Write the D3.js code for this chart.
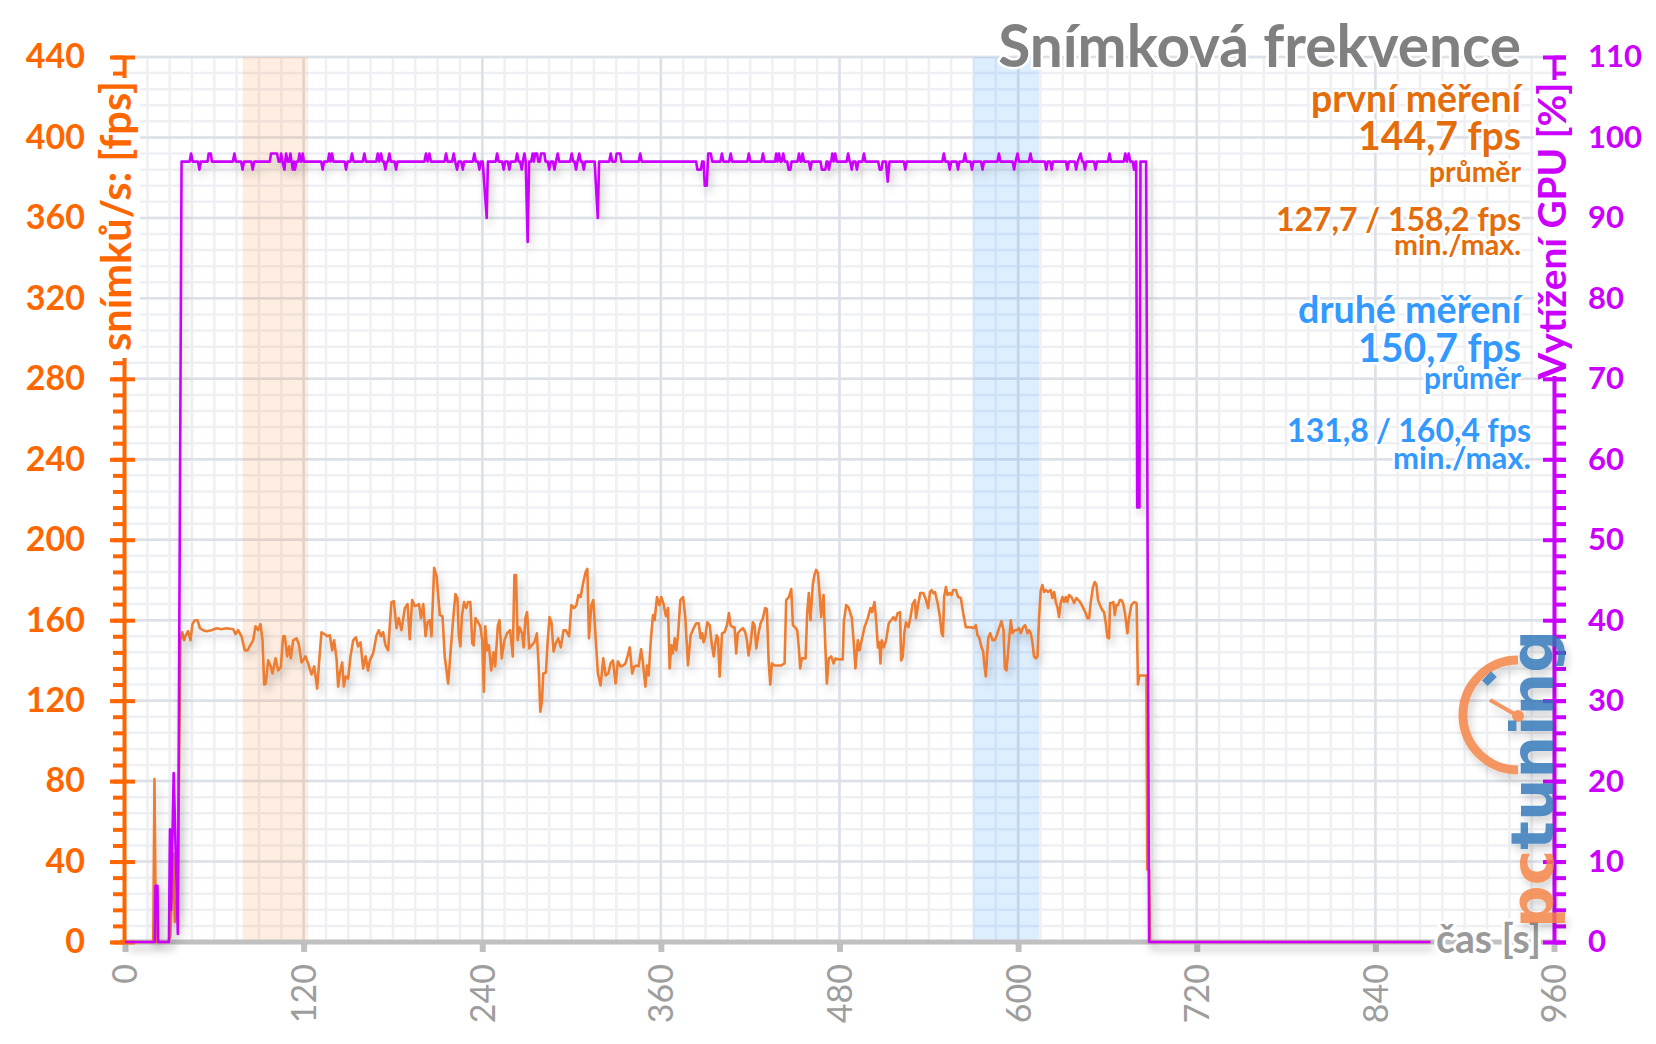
<!DOCTYPE html>
<html><head><meta charset="utf-8">
<script src="https://cdn.jsdelivr.net/npm/d3@7"></script>
<style>
html,body{margin:0;padding:0;background:#fff;}
svg{display:block;font-family:Lato,'Open Sans',sans-serif;}
</style></head><body>
<svg id="chart" width="1656" height="1044"></svg>
<script>
// ---------- data ----------
const timeTicks = [0,120,240,360,480,600,720,840,960];
const fpsTicks = [0,40,80,120,160,200,240,280,320,360,400,440];
const gpuTicks = [0,10,20,30,40,50,60,70,80,90,100,110];
const bandFirst = [79,123];
const bandSecond = [570,614];
const chartTitle = "Snímková frekvence";
const leftTitle = "snímků/s: [fps]";
const rightTitle = "Vytížení GPU [%]";
const timeTitle = "čas [s]";
const firstRun = ["první měření","144,7 fps","průměr","127,7 / 158,2 fps","min./max."];
const secondRun = ["druhé měření","150,7 fps","průměr","131,8 / 160,4 fps","min./max."];

// [time s, fps]
const fpsSamples = [
[0,0],[19,0],[19.8,81],[20.8,0],[29,0],[30.5,3],[32.5,44],[33.5,10],[35.5,25],[37.2,150],
[38.4,154],[39.7,150],[40.5,152],[42.4,154.5],[44,150],[45.3,158],[46.9,160],[48.7,160],[50.3,156],[52.5,155],[54.7,154.5],[58.1,155],[61.5,156],[64.8,155.5],[68.2,156],[72.7,155.5],[74.2,153],[76,155],[78.3,152],[80.5,145],[82.3,145],[84.5,148],[86.1,150],[87.7,157],[89.4,155],[91,158],[92.4,150],[93.5,128],[94.6,128.5],[96.2,140],[97.7,137.5],[99.1,133.5],[101.1,141],[102.9,135],[104.7,136.5],[106.2,152],[107.4,152],[108.9,142],[110.3,147],[111.4,141],[113,150],[115.2,151],[116.8,148],[118.6,139],[119.7,140],[121.2,142],[123,138.5],[125.3,133],[127.1,137],[129.1,126],[130.4,139],[132,154],[134.2,153],[135.8,152],[137.6,152.5],[139.2,145],[140.5,150],[142.1,141],[143.2,127],[144.3,133.5],[145.9,139],[147,127],[148.3,132],[149.9,131],[151.5,142],[153.3,150],[155.1,151.5],[156.6,147],[158.2,149],[160,136],[161.6,142],[163.3,135],[164.5,140],[166.7,143.5],[169,152.5],[170.5,155],[171.9,152],[173.4,154],[175,147.5],[176.8,145],[179,169],[180.6,169.5],[182.4,156],[183.9,161],[185.7,155],[188,166],[189.8,168],[191.3,150.5],[192.9,170],[194.7,167],[196.6,167.5],[197.5,168],[198.8,161],
[200.4,168],[201.9,152],[203.3,159],[204.8,160],[205.9,152],[207.7,186],[209.3,182],[211.5,162.5],[213.3,162],[214.8,142],[217.1,128.5],[218.8,145],[220.4,160],[222,173],[223.3,171],[224.2,153],[225.3,147],[226.4,162.5],[227.8,169],[229.3,166],[230.4,169],[232,169],[233.3,148.5],[234.2,147.5],[235.5,161],[237.1,159],[238.7,157],[240,150],[241.1,124.5],[242,157],[243.3,145],[244.5,147.5],[246,135],[247.6,144],[248.7,137],[250.5,157.5],[251.6,160],[253.1,141],[254.9,150],[256.7,153.5],[258.7,155],[260.5,142],[261.6,182.5],[262.7,182.5],[263.8,150],[265,156.5],[266.7,153.5],[267.8,146.5],[269,161],[270.1,164],[271.6,146],[273.2,147.5],[275,149],[276.7,153.5],[277.9,137],[279,114.5],[280.1,119.5],[281,133.5],[282.8,134],[283.9,149],[285.2,161.5],[286.5,159],[287.9,144.5],[289.4,148.5],[291,151],[292.8,146.5],[294.6,155],[296.1,155],[298.4,152],[299.9,167.5],[301.7,166],[303.3,167.5],[304.6,172.5],[306.1,171.5],[307.9,179],[309.5,184],[310.6,185.5],[311.7,151],[313.3,167.5],[314.6,170],[316.2,151],[317.7,133.5],[319.5,127.5],[321.3,141],[322.9,132.5],[324.7,133.5],[326.2,138.5],[327.8,140],[329.6,128.5],[331.1,139.5],[332.9,137],[334.7,137.5],[336.2,138.5],[337.8,142.5],[339.1,146.5],[340.7,133.5],[342.2,137],[344,137.5],[345.1,137],[346.7,145.5],[347.8,140],[349.6,127],[350.7,137.5],[351.8,132.5],[353.4,151.5],[354.7,162.5],[355.8,160],[357.4,171.5],[359,167.5],[360.3,171.5],
[361.8,168],[363.4,162],[364.8,166],[365.9,136],[367,147.5],[368.1,143.5],[369.3,151],[370.4,145],[371.5,152.5],[373.1,170],[374.9,171.5],[376.4,161.5],[378.2,137.5],[380,152.5],[382,156],[383.8,158.5],[385.4,158.5],[386.7,151],[387.8,153.5],[388.7,149],[389.8,151.5],[391.2,159],[392.8,157.5],[394.3,147.5],[395.5,142],[396.6,148.5],[397.5,152.5],[398.4,151],[399.5,132],[401.1,153.5],[402.8,154],[404.4,157.5],[405.7,163.5],[406.8,157.5],[408.4,156.5],[409.5,156.5],[410.6,143.5],[411.7,153.5],[413.5,155],[415.1,156],[416.7,154],[417.8,150],[418.9,142.5],[420.3,148.5],[421.8,159],[422.9,157.5],[424.1,146],[425.6,153.5],[427,158.5],[428.5,161],[430.1,166],[431.2,165.5],[432.4,139.5],[433.5,128],[434.6,138.5],[436.4,137.5],[438.2,137.5],[440.9,137.5],[443.1,138.5],[444.2,170],[446,171.5],[447.6,175.5],[448.7,157.5],[450.2,156.5],[451.6,155],[452.7,146],[453.6,136],[454.7,141],[457.2,141],[458.3,163.5],[459.4,173.5],[460.5,160],[462.1,178],[463.2,182.5],[464.3,185],[465.5,183.5],[466.6,173.5],[467.7,161.5],[469.3,172.5],[470.4,148.5],[471.5,128.5],[472.8,141],[474.4,142],[476,138.5],[477.3,141],[480,140.5],[482.2,140.5],[482.9,159],[484.5,167.5],[486,166.5],[488.3,161],[489.6,148.5],[490.7,136],[492.3,150],[493.4,145],[495.2,151],[496.8,156.5],[499,161],[500.8,166],[501.9,164],[503.5,169],[504.6,160],[505.8,146.5],[506.8,149],[507.5,138.5],[508.4,150],[509.8,146.5],[511.3,150],[513.1,158.5],[514.7,160],[516.2,161.5],[517.6,160],[519.1,163.5],[520.7,164],[521.4,140],[522.5,142],[523.6,154],[524.7,159],[526.3,156.5],[527.7,161.5],
[529.1,168],[530.7,170],[531.4,161],[532.9,168],[534.3,173.5],[536.3,173.5],[538.1,170],[539.6,166],[540.8,174],[541.9,175],[543,173.5],[544.1,174],[545.9,168.5],[547.5,161.5],[548.6,153.5],[549.5,152],[550.3,171.5],[551.5,176.5],[552.6,172.5],[554.1,173.5],[555.3,172.5],[556.4,175],[558.2,175],[559.7,171.5],[561.5,171],[563.1,163.5],[564.9,156.5],[566.4,156.5],[568.2,156.5],[570,156],[571.6,157.5],[572.7,152.5],[573.8,151.5],[575.4,146.5],[576.5,144.5],[577.2,138.5],[578.3,132],[579.9,151],[581.2,153.5],[582.8,150],[584.3,150],[585.7,152.5],[587.2,156],[588.8,159.5],[590.2,155],[591.1,136],[592.2,135],[593.5,146.5],[595.1,160],[596.2,153.5],[597.8,155],[599.1,155],[600.7,156],[601.8,153.5],[603.4,156.5],[604.7,157.5],[606.3,153.5],[607.4,155],[608.5,153.5],[609.6,149],[610.7,142],[611.9,141],[613,142],[614.1,161.5],[615.2,175],[616.3,177.5],[617.4,174],[618.6,175],[620.1,174],[621.9,175],[623,171],[624.2,174],[625.3,169],[626.4,166.5],[627.5,161.5],[628.6,168.5],[629.8,171.5],[630.9,169],[632,171.5],[633.1,169],[634.2,172.5],[635.8,171.5],[637.6,168.5],[639.1,171],[640.5,170],[642.1,168.5],[643.8,166],[645.4,163.5],[646.5,161],[647.7,161],[648.8,169],[650.3,176.5],[651.5,179],[652.6,177.5],[653.7,170],[655,167.5],[656.6,165],[657.7,164],[658.8,159],[660,151.5],[661.1,151],[661.8,168.5],[662.9,168.5],[664,169],[664.9,162.5],[666,167.5],[667.1,167.5],[668.3,170],[669.4,170],[670.5,168.5],[671.8,163.5],[673.4,153.5],[674.5,161],[676.1,167.5],[677.9,169],[679.6,168.5],[680.5,128],[681.4,132.5],[683.5,132.5],[686.2,132.5],[686.8,36],[688,36],[688.6,0],[877,0]
];

// [time s, GPU %]
const gpuSamples = [
[0,0],[20,0],[20.5,7],[21.8,7],[22.3,0],[29.5,0],[30.2,14],[30.9,4],[32.7,21],[35.5,1],[38,97],
[43.4,97],[44.4,98],[45.4,97],[49,97],[50,96],[51,97],[55.5,97],[56.2,98],[57.6,98],[58.4,97],
[72.5,97],[73.5,98],[74.5,97],[78,97],[79,96],[80,97],[84.8,97],[85.8,96],[86.8,97],
[97.3,97],[98.1,98],[102.1,98],[103.2,97],[104.3,97],[104.9,98],[105.8,97],[107.1,96],[108.2,98],[109.3,97],[110.3,97],[111.1,98],[111.9,97],[112.7,96],[113.5,97],[114.2,96],[115.2,97],[116.4,97],[117.2,98],[118,97],[118.6,97],[119.4,98],[120.2,97],
[131.8,97],[132.8,96],[133.8,97],[136.3,97],[137.2,98],[138.1,97],[139.1,98],[140,97],
[147.5,97],[148.5,96],[149.5,97],[151.5,97],[152.5,98],[153.5,97],[159.8,97],[160.8,98],[161.8,97],
[168.8,97],[169.8,98],[170.8,97],[172,98],[173,97],[173.9,97],[174.9,96],[175.9,97],[176.6,97],[177.6,98],[178.6,97],
[181.1,97],[182.1,96],[183.1,97],[201.2,97],[202.2,98],[203.3,97],[204.5,98],[205.5,97],
[214.7,97],[215.7,98],[216.7,97],[219.8,97],[220.8,98],[221.8,97],[223.1,96],[224.1,97],[225.9,97],[226.9,96],[227.9,97],
[233.7,97],[234.7,98],[235.7,97],[237.1,97],[238.1,96],[239.1,97],[240.3,97],[243,90],[243.8,97],
[249,97],[250,98],[251,97],[253.4,97],[254.4,96],[255.4,97],[257.2,97],[258.2,96],[259.2,97],
[262.4,97],[263.4,98],[264.4,97],[265.5,97],[266.5,96],[267.3,97],[268.3,98],[269.2,97],[270.5,87],[271.5,97],
[272.9,97],[273.9,98],[274.7,97],[275.5,98],[276.8,98],[277.6,97],[278.7,97],[279.5,98],[281.7,98],[282.5,97],
[284,97],[285,96],[286,97],[287.5,97],[288.5,96],[289.5,97],[290.7,98],[291.7,97],
[299.1,97],[300.1,98],[301.1,97],[302,97],[303,96],[304,97],[305.2,98],[306.2,97],[307.2,97],[308.2,96],[309.2,97],
[315.5,97],[317.6,90],[318.5,97],[325.3,97],[326.3,98],[327.3,97],[329.5,97],[330.3,98],[332.7,98],[333.5,97],
[345.1,97],[346.1,98],[347.1,97],
[383.7,97],[384.5,96],[386.9,96],[387.7,97],[388.7,97],[389.5,94],[390.8,94],[391.8,98],[393.5,98],[394.5,97],
[400,97],[401,98],[402,97],[405.9,97],[406.9,98],[407.9,97],[418.1,97],[419.1,98],[420.1,97],[427.6,97],[428.6,98],[429.6,97],
[436.7,97],[437.5,98],[438.3,97],[439.4,98],[440.2,97],[441.2,97],[442.2,98],[443.2,97],[444.9,97],[445.8,96],[447,96],[447.8,97],
[451.8,97],[452.8,98],[453.8,97],[454.4,97],[455.2,98],[456.2,97],[459.4,97],[460.4,96],[461.4,97],
[467.3,97],[468.1,96],[470.5,96],[471.3,97],[472.1,97],[472.9,96],[473.9,97],[474.4,97],[475.2,98],[476.1,97],[477.1,98],[478.1,97],
[484.8,97],[485.8,98],[486.8,97],[487.2,97],[488.2,96],[489.2,97],[490.7,97],[491.7,96],[492.7,97],[495.4,97],[496.4,98],[497.4,97],
[506,97],[507,96],[508.2,96],[509,97],[511.2,97],[512.4,94.5],[513.6,97],[523.2,97],[524.2,96],[525.2,97],
[549.1,97],[550.1,98],[551.1,97],[553.1,97],[554.1,96],[555.1,97],[558.6,97],[559.6,96],[560.6,97],[563.3,97],[564.3,98],[565.3,97],
[568,97],[569,96],[570,97],[575.1,97],[576.1,96],[577.1,97],[586.1,97],[587.1,98],[588.1,97],
[596.3,97],[597.3,96],[598.3,97],[599.6,98],[600.6,97],[607.3,97],[608.3,98],[609.3,97],
[617.9,97],[618.9,96],[619.9,97],[621.5,97],[622.5,96],[623.5,97],[632.1,97],[633.1,96],[634.1,97],
[638,97],[639,96],[640,97],[642,98],[643,97],[643.9,97],[644.9,96],[645.9,97],[651,97],[652,96],[653,97],
[660.4,97],[661.4,98],[662.4,97],[671,97],[672,98],[673,97],[674.3,98],[675.3,97],[676.9,97],[677.9,96],[678.9,97],
[679.3,97],[680,54],[681.5,54],[682.2,97],[686,97],[688,0],[877,0]
];

// ---------- layout ----------
const W = 1656, H = 1044;
const x = d3.scaleLinear().domain([0,960]).range([125,1554]);
const yL = d3.scaleLinear().domain([0,440]).range([942,57]);
const yR = d3.scaleLinear().domain([0,110]).range([942,57]);
const ORANGE_AX = '#ff6600', PURPLE = '#cc00ff', LINE_OR = '#ed7d31', BLUE = '#3399ff', TXT_OR = '#e46c0a';

const svg = d3.select('#chart');
const defs = svg.append('defs');
const flt = defs.append('filter').attr('id','shadow').attr('filterUnits','userSpaceOnUse')
  .attr('x',0).attr('y',0).attr('width',W).attr('height',H);
flt.append('feDropShadow').attr('dx',3).attr('dy',6).attr('stdDeviation',4)
  .attr('flood-color','#000').attr('flood-opacity',0.2);

// grid
const grid = svg.append('g');
const gy0 = yL(0), gy1 = yL(440), gx0 = x(0), gx1 = x(960);
grid.selectAll('.vmin').data(d3.range(0,961,15)).join('line')
  .attr('x1',d=>x(d)).attr('x2',d=>x(d)).attr('y1',gy1).attr('y2',gy0)
  .attr('stroke','#eef0f4').attr('stroke-width',2.5);
grid.selectAll('.hmin').data(d3.range(0,441,8)).join('line').attr('class','hmin')
  .attr('y1',d=>yL(d)).attr('y2',d=>yL(d)).attr('x1',gx0).attr('x2',gx1)
  .attr('stroke','#eef0f4').attr('stroke-width',2.5);
grid.selectAll('.vmaj').data(timeTicks).join('line').attr('class','vmaj')
  .attr('x1',d=>x(d)).attr('x2',d=>x(d)).attr('y1',gy1).attr('y2',gy0)
  .attr('stroke','#dce0e7').attr('stroke-width',2.5);
grid.selectAll('.hmaj').data(fpsTicks).join('line').attr('class','hmaj')
  .attr('y1',d=>yL(d)).attr('y2',d=>yL(d)).attr('x1',gx0).attr('x2',gx1)
  .attr('stroke','#dce0e7').attr('stroke-width',2.5);

// bands
svg.append('rect').attr('x',x(bandFirst[0])).attr('width',x(bandFirst[1])-x(bandFirst[0]))
  .attr('y',gy1).attr('height',gy0-gy1).attr('fill','rgba(247,150,70,0.17)');
svg.append('rect').attr('x',x(bandSecond[0])).attr('width',x(bandSecond[1])-x(bandSecond[0]))
  .attr('y',gy1).attr('height',gy0-gy1).attr('fill','rgba(51,153,255,0.17)');

// x axis
const xg = svg.append('g').attr('transform',`translate(0,${gy0})`)
  .call(d3.axisBottom(x).tickValues(timeTicks).tickSize(10).tickSizeOuter(0).tickFormat(d3.format('d')));
xg.select('.domain').remove();
xg.selectAll('.tick line').attr('stroke','#c0c0c0').attr('stroke-width',6).attr('y1',2).attr('y2',10);
xg.selectAll('.tick text').attr('transform','rotate(-90)').attr('x',-22).attr('y',0).attr('dy','0.35em')
  .attr('text-anchor','end').attr('fill','#9d9d9d').attr('font-size',34).attr('font-family','Lato');
svg.append('line').attr('x1',120).attr('x2',1560).attr('y1',gy0).attr('y2',gy0)
  .attr('stroke','#c0c0c0').attr('stroke-width',5);

// left axis
const lg = svg.append('g').attr('transform','translate(124,0)');
lg.append('g').call(d3.axisLeft(yL).tickValues(d3.range(0,441,8)).tickSize(11).tickSizeOuter(0).tickFormat(''))
  .call(g=>{g.select('.domain').remove(); g.selectAll('line').attr('stroke',ORANGE_AX).attr('stroke-width',4);});
lg.append('g').call(d3.axisLeft(yL).tickValues(fpsTicks).tickSize(14).tickPadding(25).tickSizeOuter(0))
  .call(g=>{
    g.select('.domain').attr('stroke',ORANGE_AX).attr('stroke-width',4);
    g.selectAll('.tick line').attr('stroke',ORANGE_AX).attr('stroke-width',4).attr('x1',11);
    g.selectAll('.tick text').attr('fill',ORANGE_AX).attr('font-size',34).attr('font-weight',700).attr('font-family','Lato');
  });

// right axis
const rg = svg.append('g').attr('transform','translate(1554,0)');
rg.append('g').call(d3.axisRight(yR).tickValues(d3.range(0,111,2)).tickSize(12).tickSizeOuter(0).tickFormat(''))
  .call(g=>{g.select('.domain').remove(); g.selectAll('line').attr('stroke',PURPLE).attr('stroke-width',4);});
rg.append('g').call(d3.axisRight(yR).tickValues(gpuTicks).tickSize(12).tickPadding(22).tickSizeOuter(0))
  .call(g=>{
    g.select('.domain').attr('stroke',PURPLE).attr('stroke-width',4);
    g.selectAll('.tick line').attr('stroke',PURPLE).attr('stroke-width',4).attr('x1',-11);
    g.selectAll('.tick text').attr('fill',PURPLE).attr('font-size',31).attr('font-weight',700).attr('font-family','Lato');
  });

// data lines
const fpsLine = d3.line().x(d=>x(d[0])).y(d=>yL(d[1]));
const gpuLine = d3.line().x(d=>x(d[0])).y(d=>yR(d[1]));
svg.append('path').datum(fpsSamples).attr('d',fpsLine).attr('fill','none')
  .attr('stroke',LINE_OR).attr('stroke-width',2.6).attr('stroke-linejoin','round').attr('filter','url(#shadow)');
svg.append('path').datum(gpuSamples).attr('d',gpuLine).attr('fill','none')
  .attr('stroke',PURPLE).attr('stroke-width',2.6).attr('stroke-linejoin','round').attr('filter','url(#shadow)');

// helpers
function fitText(sel, target){
  const w = sel.node().getComputedTextLength();
  const fs = parseFloat(sel.attr('font-size'));
  sel.attr('font-size', fs*target/w);
  return sel;
}
function halo(sel, w){
  return sel.attr('stroke','#fff').attr('stroke-width',w).attr('stroke-linejoin','round').attr('paint-order','stroke');
}

// axis titles with white backing
svg.append('rect').attr('x',96).attr('y',78).attr('width',44).attr('height',280).attr('fill','#fff');
fitText(svg.append('text').attr('transform','translate(131,216) rotate(-90)').attr('text-anchor','middle')
  .attr('font-size',44).attr('font-weight',700).attr('fill',ORANGE_AX).text(leftTitle), 270);
svg.append('rect').attr('x',1534).attr('y',80).attr('width',42).attr('height',296).attr('fill','#fff');
fitText(svg.append('text').attr('transform','translate(1566,231) rotate(-90)').attr('text-anchor','middle')
  .attr('font-size',40).attr('font-weight',700).attr('fill',PURPLE).text(rightTitle), 297);

// time title
fitText(halo(svg.append('text').attr('x',1436).attr('y',953).attr('font-size',38).attr('font-weight',700)
  .attr('fill','#9a9a9a').text(timeTitle), 6), 105);

// title + summaries
function ann(txt, xr, yb, size, color, target, spaced){
  const t = halo(svg.append('text').attr('x',xr).attr('y',yb).attr('text-anchor','end')
    .attr('font-size',size).attr('font-weight',700).attr('fill',color).text(txt), 5);
  if (spaced){
    const w = t.node().getComputedTextLength();
    t.attr('word-spacing', ((target-w)/3).toFixed(1));
  } else fitText(t, target);
  return t;
}
ann(chartTitle, 1521, 67, 56, '#808080', 523);
ann(firstRun[0], 1521, 112, 36, TXT_OR, 210);
ann(firstRun[1], 1521, 150, 40, TXT_OR, 163);
ann(firstRun[2], 1521, 182, 28, TXT_OR, 92);
ann(firstRun[3], 1521, 231, 32, TXT_OR, 245, true);
ann(firstRun[4], 1521, 255, 28, TXT_OR, 127);
ann(secondRun[0], 1521, 323, 36, BLUE, 223);
ann(secondRun[1], 1521, 362, 40, BLUE, 163);
ann(secondRun[2], 1521, 389, 28, BLUE, 97);
ann(secondRun[3], 1531, 442, 32, BLUE, 244, true);
ann(secondRun[4], 1531, 469, 28, BLUE, 138);

// logo
const logo = svg.append('g').attr('opacity',0.82).attr('filter','url(#shadow)');
logo.append('path').attr('d','M1518,660 A55,55 0 0 0 1518,770').attr('fill','none')
  .attr('stroke','#f4813f').attr('stroke-width',9);
logo.append('rect').attr('x',1483).attr('y',675).attr('width',13).attr('height',8)
  .attr('transform','rotate(-45,1489,679)').attr('fill','#2e75b6');
logo.append('line').attr('x1',1518).attr('y1',716).attr('x2',1490).attr('y2',700)
  .attr('stroke','#f4813f').attr('stroke-width',4);
logo.append('circle').attr('cx',1518).attr('cy',716).attr('r',6).attr('fill','#f4813f');
const lt = logo.append('text').attr('transform','translate(1553,928) rotate(-90)')
  .attr('font-family','DejaVu Sans').attr('font-weight',700).attr('font-size',58)
  .attr('textLength',298).attr('lengthAdjust','spacingAndGlyphs');
lt.append('tspan').attr('fill','#f4813f').text('pc');
lt.append('tspan').attr('fill','#2e75b6').text('tuning');
</script>
</body></html>
